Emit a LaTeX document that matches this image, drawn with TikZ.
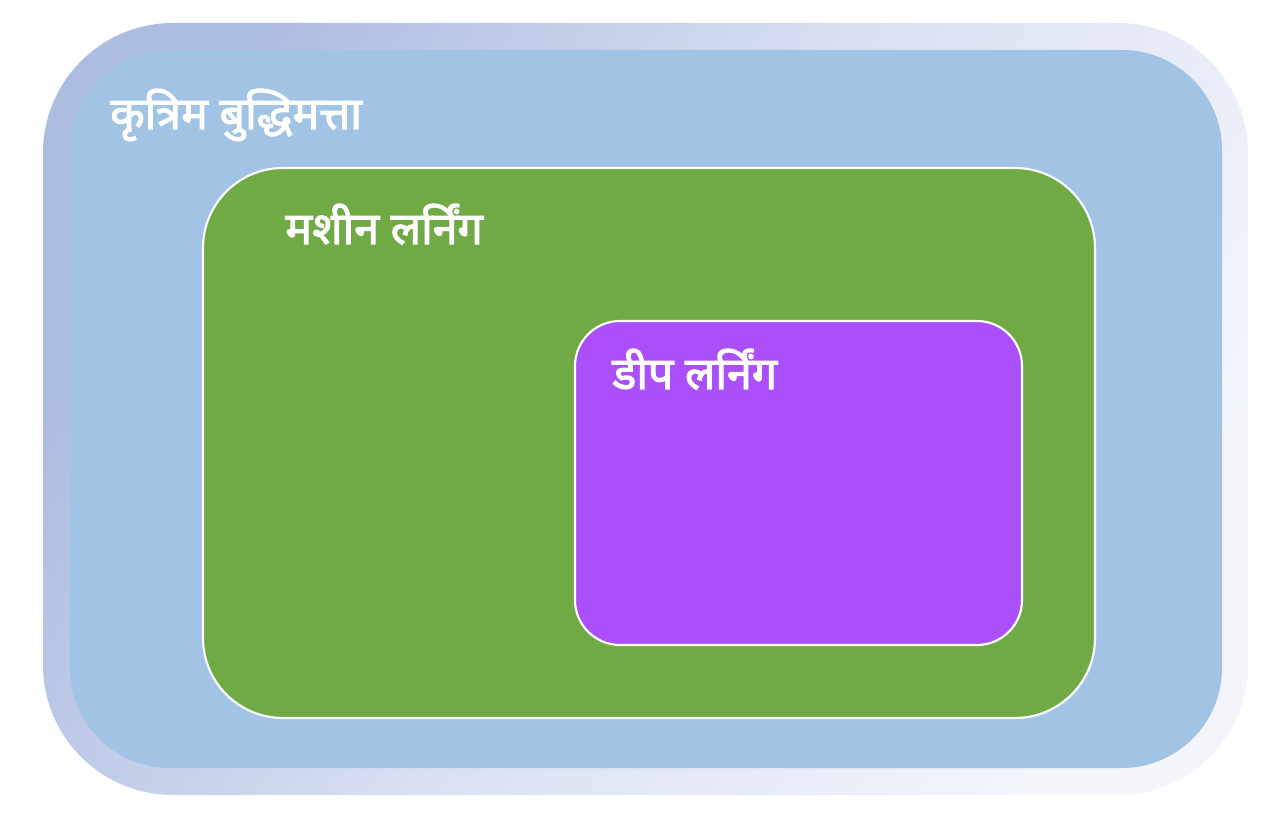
\documentclass[tikz,border=0pt]{standalone}
\usepackage{fontspec}
\newfontfamily\hindi[Script=Devanagari, BoldFont=Noto Sans, BoldFeatures={FakeBold=2.5}]{Noto Sans}
\usetikzlibrary{positioning}

\definecolor{rammelilla}{HTML}{ADBCE1}
\definecolor{rammehvit}{HTML}{F3F5FB}
\definecolor{kiblaa}{HTML}{A2C4E4}
\definecolor{mlgronn}{HTML}{70AA45}
\definecolor{dllilla}{HTML}{AA4FFA}

\begin{document}
\begin{tikzpicture}

% Stiler
\tikzstyle{boks} 	=	[rectangle, inner sep=0pt, outer sep=0pt]
\tikzstyle{etikett} 	=	[inner sep=0pt, anchor=base west, text=white, font=\hindi\bfseries\fontsize{25.5}{30}\selectfont]

	\useasboundingbox (0,0) rectangle (25.26,-16.64);

	% Ramme og KI
	\node[boks, minimum width=24.1cm, minimum height=15.44cm, rounded corners=2.6cm, left color=rammelilla, right color=rammehvit, middle color=rammelilla!35!rammehvit, shading angle=60] (ramme) at (12.91,-8.18) {};
	\node[boks, minimum width=23.04cm, minimum height=14.36cm, rounded corners=2cm, fill=kiblaa] (ki) at (12.92,-8.18) {};

	% Maskinlaering
	\node[boks, minimum width=17.84cm, minimum height=11cm, rounded corners=1.6cm, fill=mlgronn, draw=white, line width=1.2pt] (ml) at (12.98,-8.86) {};

	% Dyp laering
	\node[boks, minimum width=8.94cm, minimum height=6.48cm, rounded corners=0.9cm, fill=dllilla, draw=white, line width=1.2pt] (dl) at (15.97,-9.66) {};

	% Tekster
	\node[etikett] (ki_tekst) at (2.2,-2.58) {कृत्रिम बुद्धिमत्ता};
	\node[etikett] (ml_tekst) at (5.7,-4.88) {मशीन लर्निंग};
	\node[etikett] (dl_tekst) at (12.24,-7.78) {डीप लर्निंग};

\end{tikzpicture}
\end{document}
